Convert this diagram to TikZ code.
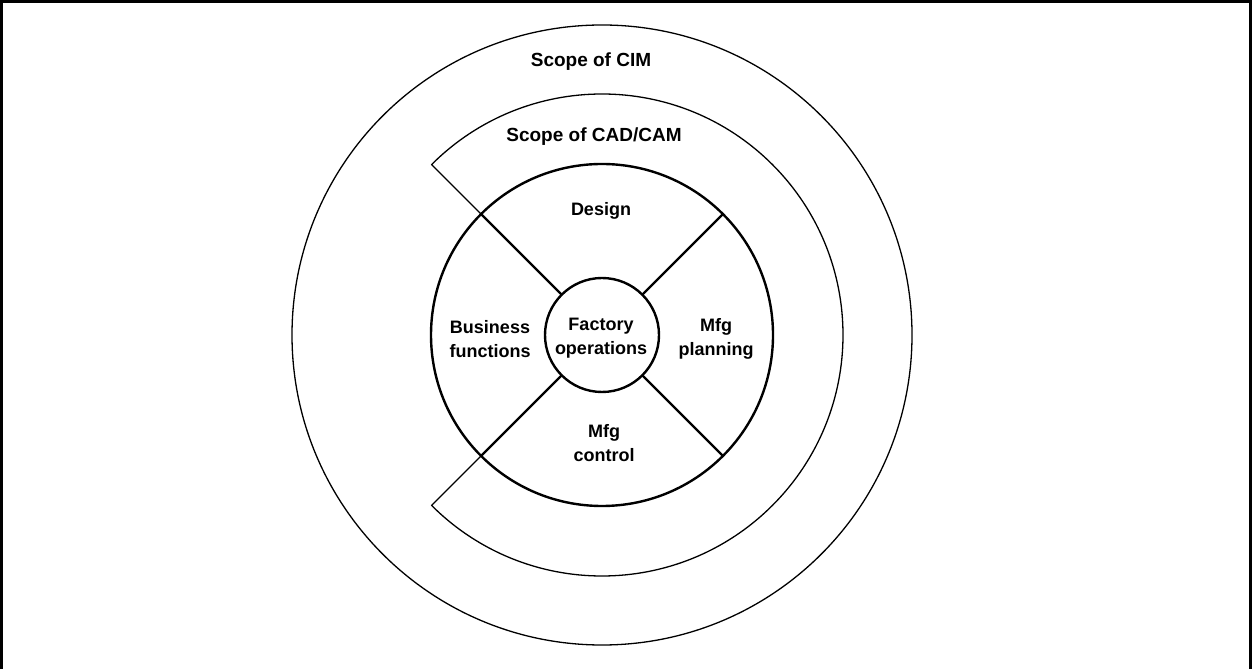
\documentclass[tikz,border=0pt]{standalone}
\usepackage{fontspec}
\setmainfont{Liberation Sans}
\begin{document}
\begin{tikzpicture}[x=1pt,y=1pt,
  thickline/.style={line width=2.4pt},
  thinline/.style={line width=1.3pt},
  ringnode/.style={circle,draw,inner sep=0pt,outer sep=0pt},
  lbl/.style={font=\fontsize{18}{24}\selectfont\bfseries,align=center,inner sep=0pt},
  scopelbl/.style={font=\fontsize{19}{24}\selectfont\bfseries,inner sep=0pt},
  frame/.style={line width=3pt}]
\useasboundingbox (0,0) rectangle (1252,669);
\draw[frame] (1.5,0) -- (1.5,667.5) -- (1250.5,667.5) -- (1250.5,0);
\coordinate (C) at (602,334);
\node[ringnode,thinline,minimum size=620pt] (cim) at (C) {};
\node[ringnode,thickline,minimum size=342pt] (ring) at (C) {};
\node[ringnode,thickline,minimum size=114pt] (fo) at (C) {};
\path (C) ++(135:241) coordinate (camA);
\path (C) ++(225:241) coordinate (camB);
\draw[thickline] (fo.45) -- (ring.45);
\draw[thickline] (fo.-45) -- (ring.-45);
\draw[thickline] (fo.135) -- (ring.135);
\draw[thickline] (fo.225) -- (ring.225);
\draw[thinline,line join=round] (ring.135) -- (camA) arc[start angle=135,end angle=-135,radius=241] -- (ring.225);
\node[scopelbl] (tcim) at (591,607) {Scope of CIM};
\node[scopelbl] (tcad) at (594,532) {Scope of CAD/CAM};
\node[lbl] (tdes) at (601,458) {Design};
\node[lbl] (tbus) at (490,330) {Business\\functions};
\node[lbl] (tfac) at (601,331) {Factory\\operations};
\node[lbl] (tpla) at (716,330) {Mfg\\planning};
\node[lbl] (tcon) at (604,226) {Mfg\\control};
\end{tikzpicture}
\end{document}
